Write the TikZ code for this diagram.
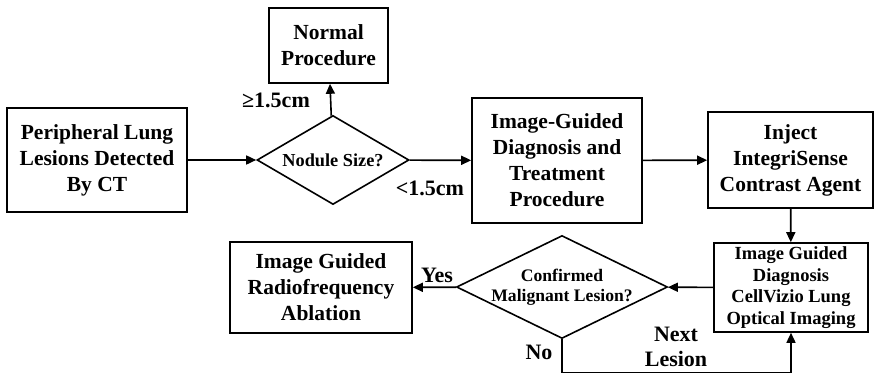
\documentclass[tikz,border=0pt]{standalone}
\usepackage{fontspec}
\setmainfont{Liberation Serif}
\usetikzlibrary{arrows.meta,positioning,shapes.geometric}

\begin{document}
\begin{tikzpicture}[x=1pt,y=-1pt,
  box/.style={draw,line width=1.6pt,align=center,inner sep=2pt,font=\bfseries\fontsize{21.5}{26}\selectfont},
  decision/.style={draw,diamond,line width=1.6pt,align=center},
  flow/.style={-{Triangle[length=10pt,width=9pt]},line width=1.6pt},
  lbl/.style={font=\bfseries\fontsize{22}{25}\selectfont,align=center,inner sep=1pt}]
\useasboundingbox (0,0) rectangle (875,375);
% top row
\node[box,minimum width=180pt,minimum height=104pt] (ct) at (97,160) {Peripheral Lung\\Lesions Detected\\By CT};
\node[decision,minimum width=152pt,minimum height=89pt,aspect=1.7,inner sep=-1pt,
  font=\bfseries\fontsize{18.3}{22}\selectfont] (size) at (333,160) {Nodule Size?};
\node[box,minimum width=119pt,minimum height=75pt] (normal) at (328.5,45.5) {Normal\\Procedure};
\node[box,minimum width=170pt,minimum height=125pt] (igdt) at (557,160.5) {Image-Guided\\Diagnosis and\\Treatment\\Procedure};
\node[box,minimum width=165pt,minimum height=96pt] (inject) at (790.5,160) {Inject\\IntegriSense\\Contrast Agent};
% bottom row
\node[box,minimum width=154pt,minimum height=89pt,font=\bfseries\fontsize{18.5}{21.5}\selectfont] (cellvizio) at (791,287.5) {Image Guided\\Diagnosis\\CellVizio Lung\\Optical Imaging};
\node[decision,minimum width=211pt,minimum height=103pt,aspect=2.05,inner sep=-4pt,
  font=\bfseries\fontsize{17.6}{20}\selectfont] (malig) at (562,287) {Confirmed\\Malignant Lesion?};
\node[box,minimum width=182pt,minimum height=91pt] (rfa) at (321,287.5) {Image Guided\\Radiofrequency\\Ablation};
% connectors
\draw[flow] (ct) -- (size);
\draw[flow] (size) -- (normal);
\draw[flow] (size) -- (igdt);
\draw[flow] (igdt) -- (inject);
\draw[flow] (inject) -- (cellvizio);
\draw[flow] (cellvizio) -- (malig);
\draw[flow] (malig) -- (rfa);
\draw[flow] (malig.south) -- ++(0,33) -| (cellvizio.south);
% labels
\node[lbl] (ge) at (276,100) {≥1.5cm};
\node[lbl] (lt) at (430,188) {<1.5cm};
\node[lbl] (yes) at (437,275) {Yes};
\node[lbl] (no) at (539,352) {No};
\node[lbl] (next) at (676,347) {Next\\Lesion};
\end{tikzpicture}
\end{document}
